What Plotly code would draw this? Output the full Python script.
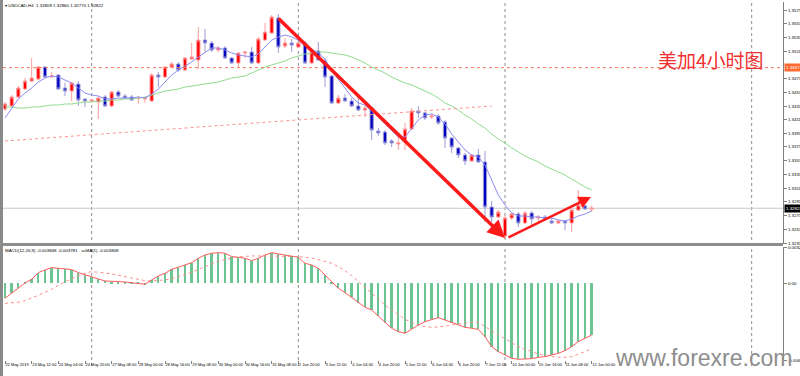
import plotly.graph_objects as go

# ---------------- data ----------------
bar_x = list(range(89))

tick_idx = list(range(0, 89, 4))
tick_labels = ["22 May 2019", "23 May 12:00", "24 May 04:00", "24 May 20:00", "27 May 08:00",
               "28 May 00:00", "28 May 16:00", "29 May 08:00", "30 May 00:00", "30 May 16:00",
               "31 May 08:00", "2 Jun 20:00", "3 Jun 12:00", "4 Jun 04:00", "4 Jun 20:00",
               "5 Jun 12:00", "6 Jun 04:00", "6 Jun 20:00", "7 Jun 12:00", "10 Jun 00:00",
               "10 Jun 16:00", "11 Jun 08:00", "12 Jun 00:00"]

opens = [1.34268, 1.34312, 1.34443, 1.34559, 1.34676, 1.34705, 1.34880, 1.34734, 1.34763, 1.34574,
         1.34530, 1.34632, 1.34414, 1.34384, 1.34370, 1.34443, 1.34312, 1.34516, 1.34457, 1.34443,
         1.34425, 1.34414, 1.34384, 1.34763, 1.34734, 1.34880, 1.34924, 1.34836, 1.34996, 1.34982,
         1.35273, 1.35230, 1.35128, 1.35157, 1.35011, 1.34938, 1.35084, 1.35098, 1.34938, 1.35273,
         1.35375, 1.35594, 1.35186, 1.35230, 1.35171, 1.35230, 1.34938, 1.35113, 1.34967, 1.34749,
         1.34355, 1.34428, 1.34384, 1.34312, 1.34253, 1.34282, 1.33947, 1.33933, 1.33802, 1.33758,
         1.33787, 1.33977, 1.34239, 1.34210, 1.34151, 1.34166, 1.34079, 1.33845, 1.33700, 1.33598,
         1.33510, 1.33598, 1.33496, 1.32840, 1.32694, 1.32418, 1.32680, 1.32738, 1.32607, 1.32753,
         1.32680, 1.32694, 1.32636, 1.32607, 1.32636, 1.32607, 1.32796, 1.32855, 1.32809]
highs = [1.34370, 1.34472, 1.34603, 1.34720, 1.35011, 1.34894, 1.34894, 1.34807, 1.34778, 1.34647,
         1.34661, 1.34676, 1.34428, 1.34414, 1.34443, 1.34472, 1.34530, 1.34545, 1.34486, 1.34472,
         1.34457, 1.34443, 1.34792, 1.34807, 1.34894, 1.34953, 1.34953, 1.35026, 1.35230, 1.35463,
         1.35434, 1.35259, 1.35186, 1.35186, 1.35026, 1.35098, 1.35113, 1.35171, 1.35317, 1.35521,
         1.35637, 1.35652, 1.35302, 1.35288, 1.35244, 1.35259, 1.35157, 1.35244, 1.35011, 1.34763,
         1.34472, 1.34486, 1.34428, 1.34472, 1.34326, 1.34297, 1.33991, 1.33962, 1.33831, 1.33860,
         1.34064, 1.34282, 1.34312, 1.34224, 1.34195, 1.34195, 1.34108, 1.33860, 1.33714, 1.33627,
         1.33612, 1.33685, 1.33656, 1.32927, 1.32796, 1.32709, 1.32753, 1.32767, 1.32782, 1.32782,
         1.32723, 1.32723, 1.32680, 1.32651, 1.32651, 1.32825, 1.33088, 1.32869, 1.32860]
lows = [1.34239, 1.34297, 1.34428, 1.34545, 1.34661, 1.34690, 1.34720, 1.34720, 1.34545, 1.34457,
        1.34384, 1.34312, 1.34297, 1.34370, 1.34122, 1.34297, 1.34297, 1.34443, 1.34414, 1.34384,
        1.34341, 1.34355, 1.34370, 1.34588, 1.34720, 1.34865, 1.34807, 1.34822, 1.34982, 1.34851,
        1.35098, 1.35098, 1.35098, 1.34996, 1.34924, 1.34865, 1.35011, 1.34924, 1.34924, 1.35259,
        1.35361, 1.35084, 1.35157, 1.35098, 1.35157, 1.34924, 1.34924, 1.34967, 1.34588, 1.34341,
        1.34341, 1.34370, 1.34297, 1.34239, 1.34151, 1.33816, 1.33875, 1.33743, 1.33714, 1.33671,
        1.33671, 1.33962, 1.34137, 1.34108, 1.34122, 1.34035, 1.33700, 1.33627, 1.33554, 1.33452,
        1.33496, 1.33481, 1.32622, 1.32622, 1.32680, 1.32388, 1.32651, 1.32549, 1.32592, 1.32578,
        1.32622, 1.32636, 1.32592, 1.32592, 1.32505, 1.32476, 1.32782, 1.32796, 1.32770]
closes = [1.34341, 1.34443, 1.34574, 1.34676, 1.34720, 1.34880, 1.34734, 1.34749, 1.34559, 1.34530,
          1.34647, 1.34399, 1.34384, 1.34399, 1.34428, 1.34312, 1.34516, 1.34457, 1.34428, 1.34399,
          1.34428, 1.34428, 1.34763, 1.34734, 1.34880, 1.34924, 1.34836, 1.35011, 1.35026, 1.35273,
          1.35230, 1.35128, 1.35157, 1.35011, 1.34938, 1.35084, 1.35098, 1.34938, 1.35288, 1.35390,
          1.35608, 1.35171, 1.35230, 1.35200, 1.35230, 1.34938, 1.35098, 1.34982, 1.34734, 1.34355,
          1.34428, 1.34384, 1.34312, 1.34253, 1.34282, 1.33962, 1.33918, 1.33773, 1.33773, 1.33773,
          1.33977, 1.34239, 1.34210, 1.34137, 1.34166, 1.34064, 1.33845, 1.33714, 1.33598, 1.33510,
          1.33598, 1.33496, 1.32840, 1.32694, 1.32767, 1.32680, 1.32738, 1.32607, 1.32753, 1.32665,
          1.32694, 1.32665, 1.32607, 1.32636, 1.32607, 1.32796, 1.32869, 1.32811, 1.32822]

ma_fast = [1.34137, 1.34282, 1.34414, 1.34501, 1.34574, 1.34661, 1.34720, 1.34749, 1.34734, 1.34690,
           1.34647, 1.34574, 1.34501, 1.34472, 1.34457, 1.34414, 1.34414, 1.34428, 1.34428, 1.34428,
           1.34443, 1.34428, 1.34486, 1.34559, 1.34661, 1.34763, 1.34836, 1.34894, 1.34953, 1.35026,
           1.35098, 1.35157, 1.35157, 1.35128, 1.35084, 1.35055, 1.35040, 1.35026, 1.35069, 1.35171,
           1.35273, 1.35317, 1.35346, 1.35317, 1.35273, 1.35186, 1.35142, 1.35084, 1.34996, 1.34822,
           1.34705, 1.34574, 1.34443, 1.34355, 1.34326, 1.34239, 1.34151, 1.34049, 1.33947, 1.33860,
           1.33860, 1.33991, 1.34108, 1.34180, 1.34195, 1.34151, 1.34049, 1.33904, 1.33787, 1.33671,
           1.33598, 1.33569, 1.33452, 1.33233, 1.33015, 1.32869, 1.32753, 1.32709, 1.32709, 1.32694,
           1.32694, 1.32680, 1.32680, 1.32651, 1.32636, 1.32665, 1.32709, 1.32738, 1.32782]
ma_slow = [1.34297, 1.34297, 1.34282, 1.34282, 1.34297, 1.34297, 1.34312, 1.34326, 1.34326, 1.34341,
           1.34341, 1.34355, 1.34370, 1.34370, 1.34384, 1.34384, 1.34399, 1.34399, 1.34414, 1.34414,
           1.34428, 1.34443, 1.34472, 1.34501, 1.34530, 1.34545, 1.34559, 1.34588, 1.34603, 1.34618,
           1.34632, 1.34647, 1.34661, 1.34690, 1.34720, 1.34734, 1.34749, 1.34792, 1.34836, 1.34880,
           1.34909, 1.34938, 1.34967, 1.35011, 1.35040, 1.35069, 1.35084, 1.35098, 1.35098, 1.35084,
           1.35069, 1.35055, 1.35026, 1.34982, 1.34938, 1.34880, 1.34836, 1.34792, 1.34734, 1.34690,
           1.34647, 1.34618, 1.34574, 1.34530, 1.34486, 1.34428, 1.34355, 1.34312, 1.34253, 1.34180,
           1.34122, 1.34049, 1.33991, 1.33904, 1.33831, 1.33773, 1.33700, 1.33642, 1.33583, 1.33539,
           1.33496, 1.33437, 1.33394, 1.33350, 1.33306, 1.33248, 1.33190, 1.33132, 1.33088]

macd_main = [-0.001328, -0.000885, -0.000443, 0.000030, 0.000354, 0.000944, 0.001180, 0.001387, 0.001328, 0.001239,
             0.001210, 0.000944, 0.000738, 0.000531, 0.000384, 0.000207, 0.000148, 0.000148, 0.000118, 0.000059,
             0.000030, -0.000089, 0.000295, 0.000649, 0.000885, 0.001239, 0.001416, 0.001623, 0.001829, 0.002213,
             0.002508, 0.002655, 0.002714, 0.002655, 0.002360, 0.002301, 0.002213, 0.002006, 0.002213, 0.002508,
             0.002714, 0.002596, 0.002508, 0.002419, 0.002301, 0.001770, 0.001623, 0.001328, 0.000738, 0.000059,
             -0.000443, -0.000826, -0.001239, -0.001711, -0.002124, -0.002360, -0.002891, -0.003481, -0.003983, -0.004278,
             -0.004425, -0.004071, -0.003688, -0.003393, -0.003186, -0.003039, -0.003245, -0.003481, -0.003688, -0.003894,
             -0.003983, -0.004071, -0.004720, -0.005605, -0.006048, -0.006343, -0.006638, -0.006726, -0.006726, -0.006667,
             -0.006549, -0.006490, -0.006343, -0.006195, -0.005959, -0.005605, -0.005163, -0.004868, -0.004573]
macd_signal = [-0.001770, -0.001740, -0.001682, -0.001534, -0.001328, -0.001062, -0.000797, -0.000531, -0.000177, 0.000148,
               0.000413, 0.000649, 0.000885, 0.001033, 0.001003, 0.000915, 0.000826, 0.000738, 0.000590, 0.000472,
               0.000354, 0.000236, 0.000207, 0.000236, 0.000295, 0.000413, 0.000561, 0.000767, 0.000974, 0.001239,
               0.001475, 0.001711, 0.001947, 0.002124, 0.002242, 0.002331, 0.002390, 0.002419, 0.002419, 0.002419,
               0.002419, 0.002419, 0.002419, 0.002390, 0.002360, 0.002301, 0.002242, 0.002095, 0.001947, 0.001770,
               0.001475, 0.001121, 0.000679, 0.000148, -0.000354, -0.000885, -0.001416, -0.001918, -0.002360, -0.002803,
               -0.003186, -0.003452, -0.003717, -0.003835, -0.003894, -0.003865, -0.003776, -0.003688, -0.003570, -0.003481,
               -0.003452, -0.003452, -0.003835, -0.004219, -0.004573, -0.004897, -0.005251, -0.005605, -0.005841, -0.006077,
               -0.006254, -0.006402, -0.006490, -0.006549, -0.006549, -0.006490, -0.006284, -0.006048, -0.005782]

price_ticks = [1.35710, 1.35510, 1.35310, 1.35110, 1.34710, 1.34510, 1.34310, 1.34110,
               1.33910, 1.33715, 1.33515, 1.33315, 1.33115, 1.32915, 1.32715, 1.32515, 1.32315]
price_tick_text = [f"{v:.5f}" for v in price_ticks]
macd_ticks = [0.003211, 0.0, -0.006788]
macd_tick_text = ["0.003211", "0.00", "-0.0068"]

hline_price = 1.34871
last_price = 1.32822
week_separators = [13, 44, 75, 112]
trend_x = [0, 73]
trend_y = [1.33802, 1.34312]
arrow_down = dict(x0=40.8, y0=1.35608, x1=75.0, y1=1.32388)
arrow_up = dict(x0=75.3, y0=1.32388, x1=87.9, y1=1.32986)

# ---------------- figure ----------------
FONT = "Liberation Sans"
SMALL = 4.4
XFONT = 4.0
XD = [0.00375, 0.97875]
fig = go.Figure()

fig.add_trace(go.Candlestick(
    x=bar_x, open=opens, high=highs, low=lows, close=closes,
    increasing=dict(line=dict(color="#ff9c9c", width=1), fillcolor="#ff0000"),
    decreasing=dict(line=dict(color="#9c9cd8", width=1), fillcolor="#0000c0"),
    whiskerwidth=0, xaxis="x", yaxis="y", hoverinfo="skip"))
fig.add_trace(go.Scatter(x=bar_x, y=ma_slow, mode="lines",
                         line=dict(color="#8fdc8f", width=1), xaxis="x", yaxis="y"))
fig.add_trace(go.Scatter(x=bar_x, y=ma_fast, mode="lines",
                         line=dict(color="#8c8cf4", width=1), xaxis="x", yaxis="y"))

fig.add_trace(go.Bar(x=bar_x, y=macd_main, width=0.25,
                     marker=dict(color="#6cc493", line=dict(width=0)), xaxis="x", yaxis="y2"))
fig.add_trace(go.Scatter(x=bar_x, y=macd_main, mode="lines",
                         line=dict(color="#ff5c5c", width=1), xaxis="x", yaxis="y2"))
fig.add_trace(go.Scatter(x=bar_x, y=macd_signal, mode="lines",
                         line=dict(color="#ff8c8c", width=1, dash="dot"), xaxis="x", yaxis="y2"))

shapes = []
shapes.append(dict(type="rect", xref="paper", yref="paper", x0=0, x1=XD[0], y0=0, y1=1,
                   fillcolor="#8a8a8a", line=dict(width=0), layer="above"))
shapes.append(dict(type="rect", xref="paper", yref="paper", x0=0, x1=XD[1],
                   y0=(376 - 246) / 376, y1=(376 - 243) / 376,
                   fillcolor="#8c8c8c", line=dict(width=0), layer="above"))
for w in week_separators:
    shapes.append(dict(type="line", xref="x", yref="paper", x0=w, x1=w,
                       y0=(376 - 366) / 376, y1=1,
                       line=dict(color="#8c8c8c", width=1, dash="dot"), layer="below"))
shapes.append(dict(type="line", xref="paper", yref="y", x0=XD[0], x1=XD[1],
                   y0=hline_price, y1=hline_price,
                   line=dict(color="#ff7a5a", width=1, dash="dot")))
shapes.append(dict(type="line", xref="paper", yref="y", x0=XD[0], x1=XD[1],
                   y0=last_price, y1=last_price,
                   line=dict(color="#c8c8c8", width=1), layer="below"))
shapes.append(dict(type="line", xref="x", yref="y", x0=trend_x[0], x1=trend_x[1],
                   y0=trend_y[0], y1=trend_y[1],
                   line=dict(color="#ff9090", width=1, dash="dot")))

annotations = []
annotations.append(dict(xref="paper", yref="paper", x=0.004, y=1 - 5 / 376, xanchor="left",
                        yanchor="middle", showarrow=False,
                        text="▾ USDCAD,H4  1.32809 1.32860 1.32770 1.32822",
                        font=dict(family=FONT, size=SMALL, color="#000000")))
annotations.append(dict(xref="paper", yref="paper", x=0.004, y=(376 - 250) / 376, xanchor="left",
                        yanchor="middle", showarrow=False,
                        text="MACD(12,26,9) -0.003848 -0.003781   ssMA(1) -0.003848",
                        font=dict(family=FONT, size=SMALL, color="#000000")))
annotations.append(dict(xref="paper", yref="y", x=XD[1] + 0.001, y=hline_price, xanchor="left",
                        yanchor="middle", showarrow=False, text="1.34871", bgcolor="#ff6a32",
                        borderpad=1, font=dict(family=FONT, size=SMALL, color="#ffffff")))
annotations.append(dict(xref="paper", yref="y", x=XD[1] + 0.001, y=last_price, xanchor="left",
                        yanchor="middle", showarrow=False, text="1.32822", bgcolor="#000000",
                        borderpad=1, font=dict(family=FONT, size=SMALL, color="#ffffff")))
annotations.append(dict(xref="paper", yref="paper", x=711 / 800, y=(376 - 59) / 376,
                        xanchor="center", yanchor="middle", showarrow=False, text="美加4小时图",
                        font=dict(family="Noto Sans CJK SC", size=19, color="#ee3030")))
annotations.append(dict(xref="paper", yref="paper", x=703 / 800, y=(376 - 358) / 376,
                        xanchor="center", yanchor="middle", showarrow=False, text="www.forexre.com",
                        font=dict(family=FONT, size=23, color="#8e8e8e")))
for a, wdt in ((arrow_down, 3.5), (arrow_up, 2.5)):
    annotations.append(dict(xref="x", yref="y", axref="x", ayref="y",
                            x=a["x1"], y=a["y1"], ax=a["x0"], ay=a["y0"], text="",
                            showarrow=True, arrowhead=2, arrowsize=1, arrowwidth=wdt,
                            arrowcolor="#ff1a1a", standoff=0, startstandoff=0))

fig.update_layout(
    width=800, height=376, margin=dict(l=0, r=0, t=0, b=0, autoexpand=False),
    paper_bgcolor="#ffffff", plot_bgcolor="#ffffff", showlegend=False,
    font=dict(family=FONT, size=SMALL, color="#000000"),
    xaxis=dict(domain=XD, range=[-0.3, 116.7], anchor="y2", tickvals=tick_idx, ticktext=tick_labels,
               ticks="outside", ticklen=3, tickcolor="#808080", ticklabelposition="outside right",
               tickangle=0, tickfont=dict(size=XFONT), showgrid=False, zeroline=False,
               showline=False, automargin=False, rangeslider=dict(visible=False)),
    yaxis=dict(domain=[(376 - 244) / 376, (376 - 2) / 376], range=[1.32301, 1.35827], side="right",
               anchor="x", tickvals=price_ticks, ticktext=price_tick_text, ticks="outside", ticklen=3,
               tickcolor="#808080", tickfont=dict(size=SMALL), showgrid=False, zeroline=False,
               showline=True, linecolor="#808080", linewidth=1, automargin=False),
    yaxis2=dict(domain=[(376 - 360) / 376, (376 - 247) / 376], range=[-0.006788, 0.003211],
                side="right", anchor="x", tickvals=macd_ticks, ticktext=macd_tick_text,
                ticks="outside", ticklen=3, tickcolor="#808080", tickfont=dict(size=SMALL),
                showgrid=False, zeroline=False, showline=True, linecolor="#808080", linewidth=1,
                automargin=False),
    shapes=shapes, annotations=annotations, bargap=0,
)

fig.write_html("out.html", config={"displayModeBar": False},
               post_script="document.body.style.margin='0';document.body.style.overflow='hidden';")
